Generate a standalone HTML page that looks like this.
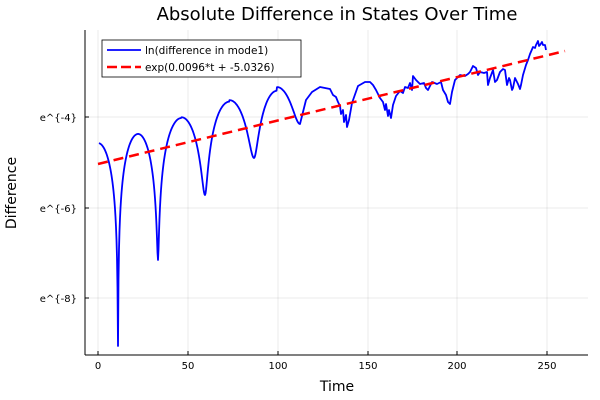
<!DOCTYPE html>
<html><head><meta charset="utf-8"><style>body{margin:0;background:#fff}svg{display:block}</style></head><body>
<svg width="600" height="400" viewBox="0 0 600 400" font-family="DejaVu Sans, Liberation Sans, sans-serif">
<rect width="600" height="400" fill="#fff"/>
<g stroke="#000" stroke-opacity="0.08" stroke-width="1">
<line x1="98" y1="30" x2="98" y2="355"/><line x1="188" y1="30" x2="188" y2="355"/><line x1="278" y1="30" x2="278" y2="355"/><line x1="368" y1="30" x2="368" y2="355"/><line x1="457" y1="30" x2="457" y2="355"/><line x1="547" y1="30" x2="547" y2="355"/>
<line x1="85" y1="117" x2="588" y2="117"/><line x1="85" y1="208" x2="588" y2="208"/><line x1="85" y1="298" x2="588" y2="298"/>
</g>
<g stroke="#000" stroke-width="1"><line x1="85" y1="30" x2="85" y2="355"/><line x1="85" y1="355" x2="588" y2="355"/>
<line x1="98" y1="355" x2="98" y2="351"/><line x1="188" y1="355" x2="188" y2="351"/><line x1="278" y1="355" x2="278" y2="351"/><line x1="368" y1="355" x2="368" y2="351"/><line x1="457" y1="355" x2="457" y2="351"/><line x1="547" y1="355" x2="547" y2="351"/>
<line x1="85" y1="117" x2="89" y2="117"/><line x1="85" y1="208" x2="89" y2="208"/><line x1="85" y1="298" x2="89" y2="298"/></g>
<g font-size="10" text-anchor="middle"><text x="98" y="369">0</text><text x="188" y="369">50</text><text x="278" y="369">100</text><text x="368" y="369">150</text><text x="457" y="369">200</text><text x="547" y="369">250</text></g>
<g font-size="10" text-anchor="end"><text x="77" y="121">e^{-4}</text><text x="77" y="212">e^{-6}</text><text x="77" y="302">e^{-8}</text></g>
<text x="337" y="391" font-size="14" text-anchor="middle">Time</text>
<text x="16" y="193" font-size="14" text-anchor="middle" transform="rotate(-90 16 193)">Difference</text>
<text x="337" y="20" font-size="18" text-anchor="middle">Absolute Difference in States Over Time</text>
<polyline id="blue" fill="none" stroke="#0000ff" stroke-width="1.8" stroke-linejoin="round" points=""/>
<line x1="98" y1="164" x2="565" y2="51" stroke="#ff0000" stroke-width="2.5" stroke-dasharray="10,6"/>
<rect x="102" y="40" width="199" height="37" fill="#fff" stroke="#000" stroke-width="0.8"/>
<line x1="107" y1="50" x2="141" y2="50" stroke="#0000ff" stroke-width="1.8"/>
<line x1="107" y1="67" x2="141" y2="67" stroke="#ff0000" stroke-width="2.5" stroke-dasharray="10,4"/>
<text x="145" y="54" font-size="10.5">ln(difference in mode1)</text>
<text x="145" y="71" font-size="10.5">exp(0.0096*t + -5.0326)</text>
</svg>
<script>
var arches=[[78,118,143,400,346],[118,158,134,346,260],[158,205,118,260,195],[205,254,102,195,158],[254,300,92,158,124]];
var pts=[];
arches.forEach(function(a){
  var d0=a[0],d1=a[1],p=a[2];
  for(var x=d0;x<=d1;x+=0.5){
    if(x<99)continue;
    var u=(x-d0)/(d1-d0);
    var s=Math.sin(Math.PI*u);
    var dip=u<0.5?a[3]:a[4];
    var eps=Math.exp(-(dip-p)/45.3);
    var y=p-45.3*Math.log(Math.sqrt(s*s+eps*eps));
    pts.push(x.toFixed(1)+","+y.toFixed(1));
  }
});
var tail="302,116 304,108 306,100 312,92 320,87 325,88 330,89 333,95 336,97 338,102 340,106 341,114 343,110 344,122 346,115 347,127 349,120 352,103 358,86 365,82 370,82 373,85 376,90 380,98 383,102 385,110 386,104 388,116 389,110 391,118 393,105 396,96 400,91 403,93 405,87 408,88 410,83 412,90 413,76 416,80 420,84 424,83 426,88 428,90 432,82 437,84 441,82 443,90 446,95 448,102 450,104 452,92 455,80 460,75 465,76 468,74 470,72 473,66 476,68 478,75 480,72 484,73 487,72 488,85 490,78 493,70 495,82 497,80 500,72 503,69 505,70 507,85 509,78 510,80 512,90 513,88 515,78 516,80 518,84 520,89 521,85 523,75 526,65 528,60 530,54 533,47 535,48 536,45 538,41 539,46 540,45 542,42 543,45 545,45 546,50";
document.getElementById("blue").setAttribute("points",pts.join(" ")+" "+tail);
</script>
</body></html>
